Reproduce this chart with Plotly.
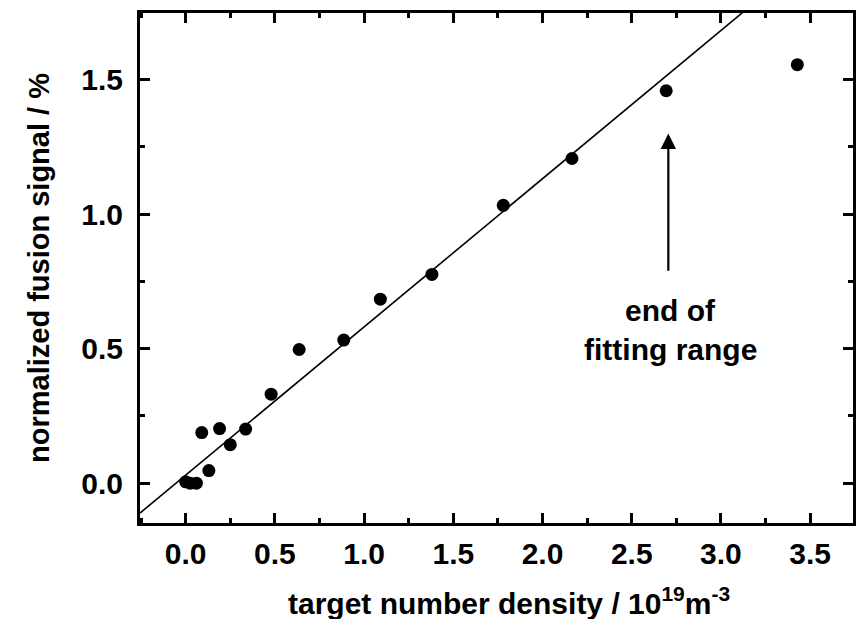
import plotly.graph_objects as go
import numpy as np

# data
density = [0.0, 0.025, 0.06, 0.09, 0.13, 0.19, 0.25, 0.336, 0.479, 0.636, 0.886,
           1.091, 1.38, 1.78, 2.165, 2.693, 3.428]
signal = [0.005, 0.0, 0.0, 0.188, 0.047, 0.203, 0.143, 0.201, 0.331, 0.497, 0.532,
          0.684, 0.776, 1.033, 1.207, 1.459, 1.556]

fit_slope = 0.551
fit_intercept = 0.030
x_range = [-0.256, 3.74]
y_range = [-0.148, 1.748]

xt_vals = [0.0, 0.5, 1.0, 1.5, 2.0, 2.5, 3.0, 3.5]
yt_vals = [0.0, 0.5, 1.0, 1.5]

FONT = "Liberation Sans"

fx = np.array(x_range)
fy = fit_slope * fx + fit_intercept

fig = go.Figure()
fig.add_trace(go.Scatter(x=fx, y=fy, mode="lines",
                         line=dict(color="black", width=1.6), showlegend=False,
                         hoverinfo="skip"))
fig.add_trace(go.Scatter(x=density, y=signal, mode="markers",
                         marker=dict(color="black", size=13), showlegend=False))

axis_common = dict(
    showline=True, linecolor="black", linewidth=3, mirror="ticks",
    ticks="inside", ticklen=10, tickwidth=3, tickcolor="black",
    showgrid=False, zeroline=False,
    tickfont=dict(family=FONT, size=30, color="black", weight="bold"),
)

fig.update_xaxes(range=x_range, tickvals=xt_vals,
                 ticktext=[f"{v:.1f}" for v in xt_vals],
                 minor=dict(ticks="inside", ticklen=5, tickwidth=3, dtick=0.25,
                            tick0=0, tickcolor="black", showgrid=False),
                 ticklabelstandoff=2,
                 **axis_common)
fig.update_yaxes(range=y_range, tickvals=yt_vals,
                 ticktext=[f"{v:.1f}" for v in yt_vals],
                 minor=dict(ticks="inside", ticklen=5, tickwidth=3, dtick=0.25,
                            tick0=0, tickcolor="black", showgrid=False),
                 ticklabelstandoff=8,
                 title=dict(text="normalized fusion signal / %",
                            font=dict(family=FONT, size=29, color="black", weight="bold"),
                            standoff=24),
                 **axis_common)

# x-axis title (placed as annotation to match its horizontal offset)
fig.add_annotation(x=0.518, y=-0.153, xref="paper", yref="paper",
                   xanchor="center", yanchor="middle", showarrow=False,
                   text="target number density / 10<sup>19</sup>m<sup>-3</sup>",
                   font=dict(family=FONT, size=30, color="black", weight="bold"))

fig.add_annotation(x=2.705, y=1.30, ax=2.705, ay=0.784, xref="x", yref="y",
                   axref="x", ayref="y", text="", showarrow=True,
                   arrowhead=2, arrowsize=1.4, arrowwidth=2.2, arrowcolor="black")
fig.add_annotation(x=2.716, y=0.643, xref="x", yref="y", text="end of",
                   showarrow=False,
                   font=dict(family=FONT, size=30, color="black", weight="bold"))
fig.add_annotation(x=2.716, y=0.497, xref="x", yref="y", text="fitting range",
                   showarrow=False,
                   font=dict(family=FONT, size=30, color="black", weight="bold"))

fig.update_layout(width=856, height=619,
                  margin=dict(l=140, r=0, t=13, b=96),
                  plot_bgcolor="white", paper_bgcolor="white")

fig.write_html("out.html")
